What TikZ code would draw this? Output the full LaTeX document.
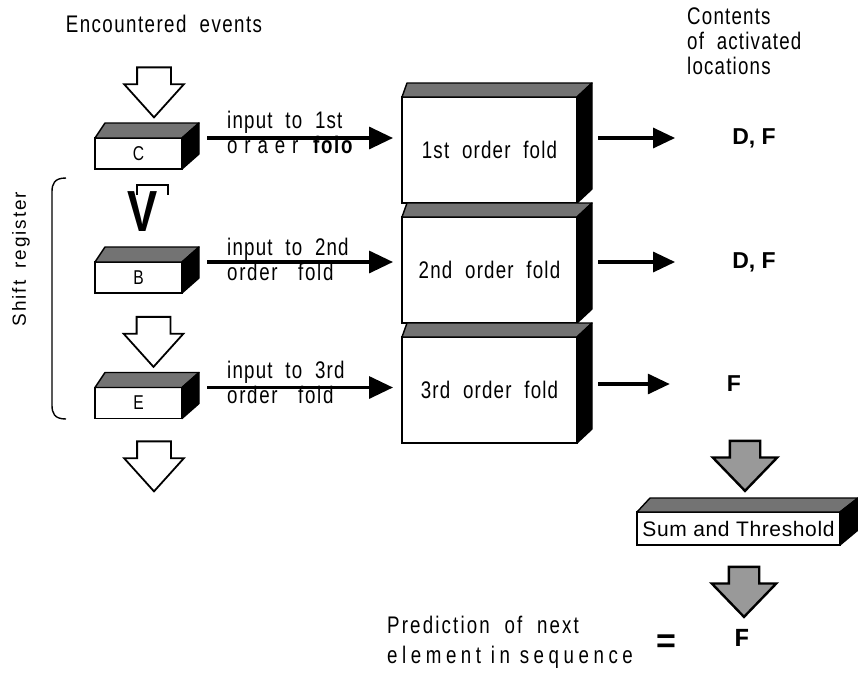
\documentclass[tikz,border=0pt]{standalone}
\usepackage{fontspec}
\setmainfont{Liberation Sans}
\newfontfamily\narrow{Liberation Sans}[FakeStretch=0.78]
\newfontfamily\typewr{Liberation Mono}
\usetikzlibrary{shapes.arrows,arrows.meta}

\begin{document}
\begin{tikzpicture}[x=1pt, y=-1pt,
        lbl/.style = {inner sep=0pt, font=\fontsize{24}{25}\selectfont\narrow\addfontfeature{LetterSpace=#1}},
        lbl/.default = 5,
        boldtxt/.style = {inner sep=0pt, font=\fontsize{#1}{#1}\selectfont\bfseries},
        regbox/.style = {draw, line width=1.6pt, fill=white, minimum width=87pt, minimum height=31pt, inner sep=0pt, outer sep=0pt, font=\fontsize{20}{20}\selectfont\narrow},
        foldbox/.style = {draw, line width=1.8pt, fill=white, minimum width=175pt, minimum height=106pt, inner sep=0pt, outer sep=0pt, lbl=5},
        sumbox/.style = {draw, line width=1.8pt, fill=white, minimum width=203pt, minimum height=33pt, inner sep=0pt, outer sep=0pt, font=\fontsize{21}{21}\selectfont\addfontfeature{LetterSpace=3}},
        topface/.style = {draw, line width=1.4pt, fill=black!55, line join=round},
        sideface/.style = {draw, line width=1.4pt, fill=black, line join=round},
        hollowarrow/.style = {single arrow, draw, line width=1.8pt, fill=white, rotate=-90, minimum height=50pt, inner xsep=0pt, inner ysep=16pt, single arrow head extend=13pt, single arrow tip angle=84, outer sep=0pt},
        greyarrow/.style = {hollowarrow, fill=black!40, line width=2.4pt, inner ysep=14pt, single arrow head extend=17pt, single arrow tip angle=88},
        feed/.style = {line width=3.4pt, -{Triangle[length=24pt,width=22pt]}},
        outarr/.style = {line width=3.2pt, -{Triangle[length=22pt,width=20pt]}}
    ]
    \useasboundingbox (0,0) rectangle (858,675);

    % shift register
    \node[lbl=6, anchor=base] (enc) at (164,32) {Encountered\ \ events};
    \node[hollowarrow] (a1) at (154,83) {};
    \foreach \n/\yy in {C/153.5, B/277.5, E/403}{
        \node[regbox] (\n) at (138.5,\yy) {\n};
        \filldraw[topface] (\n.north west) -- ++(10,-15) -- ++(94,0) -- (\n.north east) -- cycle;
        \filldraw[sideface] (\n.north east) -- ++(17,-15) -- ++(0,31) -- (\n.south east) -- cycle;
    }
    \node[inner sep=0pt, font=\fontsize{58}{58}\selectfont\narrow\bfseries] (vee) at (143,212) {V};
    \draw[line width=2pt] (137,195) -- (137,185) -- (168,185) -- (168,195);
    \node[hollowarrow] (a2) at (153.5,332.5) {};
    \node[hollowarrow] (a3) at (154,457) {};

    \draw[line width=1.4pt] (66,178) .. controls (54,178) and (52,184) .. (52,192) -- (52,405) .. controls (52,413) and (54,419) .. (66,419);
    \node[inner sep=0pt, rotate=90, font=\fontsize{19}{19}\selectfont\addfontfeature{LetterSpace=10}] (shreg) at (21,259) {Shift\hspace{12pt}register};

    % folds
    \foreach \i/\yy/\o in {1/150/1st, 2/270/2nd, 3/390/3rd}{
        \node[foldbox] (f\i) at (489.5,\yy) {\o\ \ order\ \ fold};
        \filldraw[topface] (f\i.north west) -- ++(5,-14) -- ++(185,0) -- (f\i.north east) -- cycle;
        \filldraw[sideface] (f\i.north east) -- ++(15,-14) -- ++(0,106) -- (f\i.south east) -- cycle;
    }

    \node[lbl, anchor=base west] (in1) at (227,128) {input\ \ to\ \ 1st};
    \node[lbl, anchor=base west] (in2) at (227,255) {input\ \ to\ \ 2nd};
    \node[lbl, anchor=base west] (in3) at (227,378) {input\ \ to\ \ 3rd};
    \node[lbl=7, anchor=base west] (ord1) at (227,153) {o r a e r\hspace{13pt}\textbf{folo}};
    \node[lbl=7, anchor=base west] (ord2) at (227,280) {order\ \ \ fold};
    \node[lbl=7, anchor=base west] (ord3) at (227,403) {order\ \ \ fold};

    \foreach \n/\i in {C/1, B/2, E/3}
        \draw[feed] ([xshift=25pt]\n.north east) -- ([xshift=-9pt]f\i.west |- \n.north east);

    % outputs
    \node[lbl, anchor=north west, align=left] (cont) at (687,8) {Contents\\of\ \ activated\\locations};
    \node[boldtxt=23] (o1) at (754,138) {D, F};
    \node[boldtxt=23] (o2) at (754,262) {D, F};
    \node[boldtxt=23] (o3) at (734,384) {F};
    \foreach \i in {1,2,3}
        \draw[outarr] ([xshift=21pt]f\i.east |- o\i.west) -- ([xshift=-57pt]o\i.west);

    \node[greyarrow] (g1) at (745,458) {};
    \node[sumbox] (sum) at (738.5,528.5) {Sum and Threshold};
    \filldraw[topface] (sum.north west) -- ++(13,-14) -- ++(208,0) -- (sum.north east) -- cycle;
    \filldraw[sideface] (sum.north east) -- ++(18,-14) -- ++(0,32) -- (sum.south east) -- cycle;
    \node[greyarrow] (g2) at (744,584) {};

    \node[lbl=9, anchor=base west] (pred1) at (387,633) {Prediction\ \ of\ \ next};
    \node[lbl=19, anchor=base west] (pred2) at (387,663) {element\ in\ sequence};
    \node[boldtxt=34] (eq) at (666,644) {=};
    \node[inner sep=0pt, font=\fontsize{26}{26}\selectfont\typewr\bfseries] (res) at (742,638) {F};
\end{tikzpicture}
\end{document}
